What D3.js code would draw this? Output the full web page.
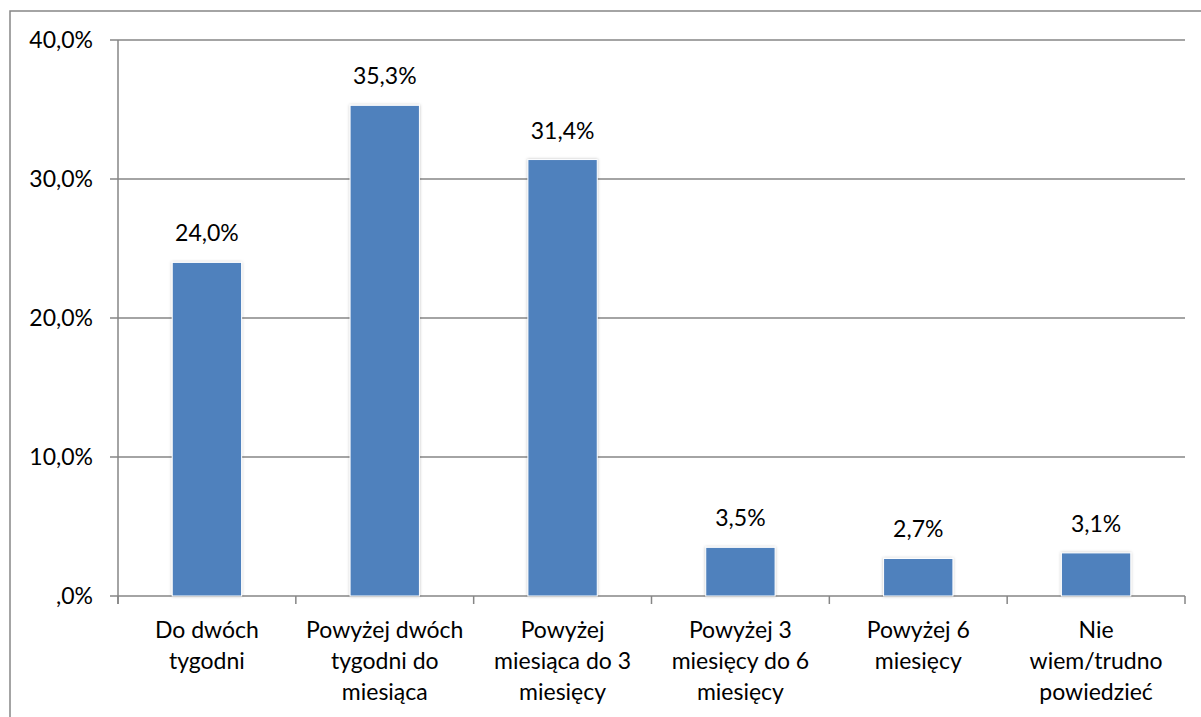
<!DOCTYPE html>
<html><head><meta charset="utf-8">
<script src="https://cdn.jsdelivr.net/npm/d3@7/dist/d3.min.js"></script>
<style>body{margin:0;background:#fff}svg{display:block;font-family:Lato,"Open Sans",sans-serif}</style>
</head><body><svg id="c" width="1201" height="717"></svg>
<script>
const categories = [
  ["Do dwóch","tygodni"],
  ["Powyżej dwóch","tygodni do","miesiąca"],
  ["Powyżej","miesiąca do 3","miesięcy"],
  ["Powyżej 3","miesięcy do 6","miesięcy"],
  ["Powyżej 6","miesięcy"],
  ["Nie","wiem/trudno","powiedzieć"]
];
const values = [24.0, 35.3, 31.4, 3.5, 2.7, 3.1];
const yTicks = [0, 10, 20, 30, 40];
const yTickLabels = [",0%","10,0%","20,0%","30,0%","40,0%"];

const svg = d3.select("#c");
const m = {left:118, right:1185, top:40, bottom:596};
const fmt = v => v.toFixed(1).replace(".", ",") + "%";

const defs = svg.append("defs");
const f = defs.append("filter").attr("id","sh").attr("x","-20%").attr("y","-20%").attr("width","140%").attr("height","140%");
f.append("feDropShadow").attr("dx",0).attr("dy",0).attr("stdDeviation",1.5).attr("flood-color","#000").attr("flood-opacity",0.25);

// outer chart border
svg.append("path").attr("d","M10,717 V11 H1201").attr("fill","none").attr("stroke","#878787").attr("stroke-width",1.5);

const x = d3.scaleBand().domain(d3.range(categories.length)).range([m.left, m.right]).paddingInner(0.61).paddingOuter(0.305);
const y = d3.scaleLinear().domain([0,40]).range([m.bottom, m.top]);

// gridlines
svg.append("g").selectAll("line").data(yTicks).join("line")
  .attr("x1", m.left - 8).attr("x2", m.right)
  .attr("y1", d => y(d)).attr("y2", d => y(d))
  .attr("stroke","#868686").attr("stroke-width",1.5);

// y axis line
svg.append("line").attr("x1",m.left).attr("x2",m.left).attr("y1",m.top).attr("y2",m.bottom+8)
  .attr("stroke","#868686").attr("stroke-width",1.5);

// x ticks at boundaries
const step = x.step();
const bounds = d3.range(categories.length + 1).map(i => m.left + i * (m.right - m.left) / categories.length);
svg.append("g").selectAll("line").data(bounds).join("line")
  .attr("x1", d => d).attr("x2", d => d).attr("y1", m.bottom).attr("y2", m.bottom + 8)
  .attr("stroke","#868686").attr("stroke-width",1.5);

// y tick labels
svg.append("g").selectAll("text").data(yTicks).join("text")
  .attr("x", 93).attr("y", d => y(d)).attr("dy","0.35em").attr("text-anchor","end")
  .attr("font-size",23).attr("fill","#000").text((d,i) => yTickLabels[i]);

// bars
svg.append("g").selectAll("rect").data(values).join("rect")
  .attr("x",(d,i)=>x(i)).attr("width",x.bandwidth())
  .attr("y",d=>y(d)).attr("height",d=>y(0)-y(d))
  .attr("fill","#4F81BD").attr("stroke","#fff").attr("stroke-width",1).attr("filter","url(#sh)");

// data labels
svg.append("g").selectAll("text").data(values).join("text")
  .attr("x",(d,i)=>x(i)+x.bandwidth()/2).attr("y",d=>y(d)-21)
  .attr("text-anchor","middle").attr("font-size",23).attr("fill","#000").text(fmt);

// category labels
const cg = svg.append("g").selectAll("text").data(categories).join("text")
  .attr("x",(d,i)=>x(i)+x.bandwidth()/2).attr("y",638)
  .attr("text-anchor","middle").attr("font-size",23).attr("fill","#000");
cg.selectAll("tspan").data(d=>d).join("tspan")
  .attr("x",function(){return this.parentNode.getAttribute("x");})
  .attr("dy",(d,i)=> i===0 ? 0 : 31).text(d=>d);
</script></body></html>
